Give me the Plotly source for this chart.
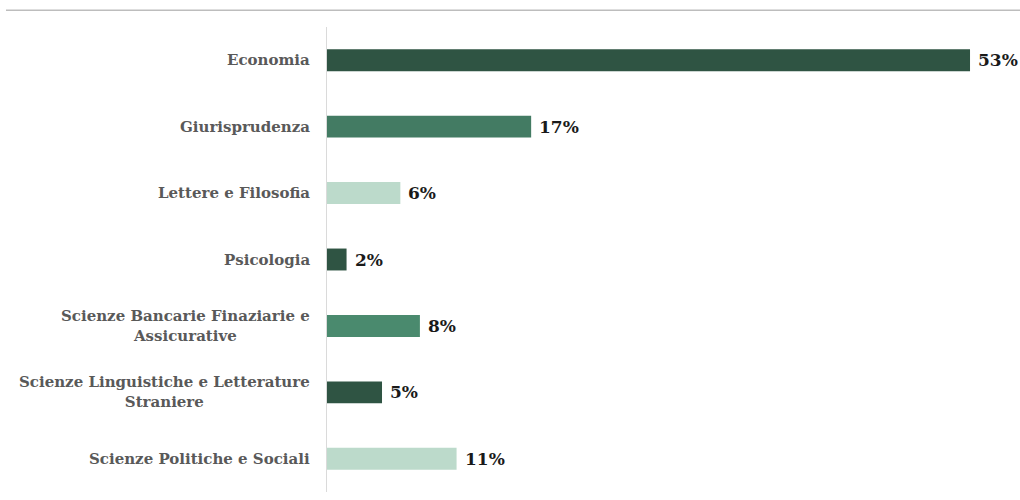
import plotly.graph_objects as go

categories = [
    "Economia",
    "Giurisprudenza",
    "Lettere e Filosofia",
    "Psicologia",
    "Scienze Bancarie Finaziarie e<br>Assicurative",
    "Scienze Linguistiche e Letterature<br>Straniere",
    "Scienze Politiche e Sociali",
]
values = [52.6, 16.7, 6.0, 1.6, 7.6, 4.5, 10.6]
value_labels = ["53%", "17%", "6%", "2%", "8%", "5%", "11%"]
bar_colors = ["#2F5443", "#437B63", "#BCDACB", "#2F5443", "#4A8A6E", "#2F5443", "#BCDACB"]

FONT = "DejaVu Serif"

fig = go.Figure(
    go.Bar(
        x=values,
        y=categories,
        orientation="h",
        marker=dict(color=bar_colors, line=dict(width=0)),
        width=0.33,
        hoverinfo="skip",
    )
)

# etichette categorie (centrate su più righe)
for cat in categories:
    fig.add_annotation(
        x=0, y=cat, xref="x", yref="y",
        text=f"<b>{cat}</b>", showarrow=False,
        xanchor="right", align="center", xshift=-15,
        font=dict(family=FONT, size=15, color="#595959"),
    )

# etichette valori
for val, lab, cat in zip(values, value_labels, categories):
    fig.add_annotation(
        x=val, y=cat, xref="x", yref="y",
        text=f"<b>{lab}</b>", showarrow=False,
        xanchor="left", xshift=6,
        font=dict(family=FONT, size=17, color="#1A1A1A"),
    )

# linea orizzontale in alto
fig.add_shape(
    type="line", xref="paper", yref="paper",
    x0=-0.47, x1=1.02, y0=1.036, y1=1.036,
    line=dict(color="#BDBDBD", width=1.5),
)

fig.update_layout(
    width=1020,
    height=500,
    paper_bgcolor="white",
    plot_bgcolor="white",
    showlegend=False,
    margin=dict(l=327, r=10, t=27, b=8),
    font=dict(family=FONT),
    xaxis=dict(range=[0, 55.87], visible=False, fixedrange=True),
    yaxis=dict(
        autorange="reversed",
        showticklabels=False,
        showgrid=False,
        showline=True,
        linecolor="#DADADA",
        linewidth=1,
        ticks="",
        zeroline=False,
        fixedrange=True,
    ),
)

fig.write_html(
    "out.html",
    config={"displayModeBar": False},
    post_script="document.body.style.margin='0';",
)
